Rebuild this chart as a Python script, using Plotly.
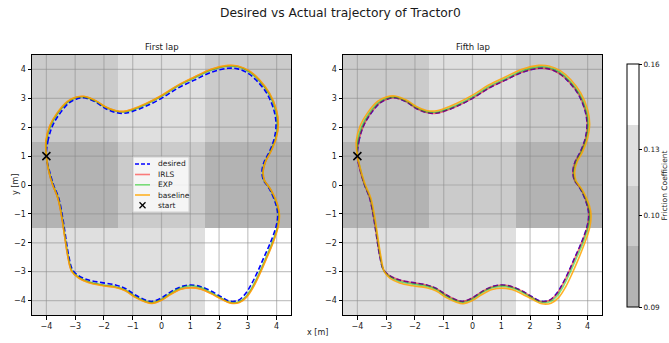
import plotly.graph_objects as go

# ---------------- data ----------------
desired_x = [-4.00,-3.95,-3.80,-3.57,-3.23,-2.95,-2.70,-2.30,-1.95,-1.60,-1.31,-1.03,-0.56,0.00,0.56,1.14,1.72,2.30,2.65,3.00,3.34,3.69,3.92,3.98,3.92,3.75,3.57,3.49,3.55,3.66,3.80,3.98,4.04,3.98,3.80,3.57,3.34,3.11,2.88,2.65,2.36,2.07,1.72,1.37,1.02,0.68,0.33,-0.02,-0.33,-0.56,-0.91,-1.26,-1.60,-2.07,-2.53,-2.88,-3.09,-3.23,-3.34,-3.43,-3.57,-3.75,-3.87,-4.00]
desired_y = [1.00,1.50,2.02,2.42,2.83,2.98,3.02,2.88,2.65,2.51,2.48,2.54,2.72,3.00,3.35,3.63,3.90,4.04,4.02,3.87,3.58,3.12,2.54,2.08,1.62,1.15,0.81,0.46,0.15,0.00,-0.23,-0.69,-1.04,-1.44,-1.96,-2.48,-3.00,-3.46,-3.81,-4.00,-4.02,-3.87,-3.67,-3.52,-3.46,-3.52,-3.69,-3.92,-4.03,-3.98,-3.81,-3.58,-3.46,-3.38,-3.29,-3.14,-2.94,-2.42,-1.73,-1.15,-0.46,0.00,0.40,1.00]

lap1_irls_x = [-4.00,-4.01,-3.87,-3.63,-3.27,-2.98,-2.70,-2.30,-1.95,-1.60,-1.31,-1.03,-0.56,0.00,0.56,1.14,1.72,2.30,2.65,3.04,3.39,3.75,3.99,4.05,3.98,3.79,3.61,3.53,3.58,3.70,3.84,4.03,4.09,4.04,3.87,3.65,3.42,3.19,2.95,2.70,2.39,2.08,1.72,1.37,1.02,0.68,0.33,-0.02,-0.33,-0.56,-0.91,-1.26,-1.60,-2.07,-2.53,-2.88,-3.12,-3.26,-3.37,-3.46,-3.60,-3.78,-3.90,-4.00]
lap1_irls_y = [1.00,1.52,2.06,2.47,2.88,3.03,3.06,2.92,2.70,2.57,2.54,2.61,2.80,3.09,3.44,3.73,4.00,4.13,4.11,3.95,3.64,3.16,2.58,2.10,1.63,1.15,0.80,0.46,0.15,-0.02,-0.25,-0.70,-1.05,-1.46,-1.99,-2.52,-3.04,-3.51,-3.87,-4.06,-4.08,-3.94,-3.75,-3.60,-3.55,-3.60,-3.77,-3.99,-4.09,-4.04,-3.88,-3.65,-3.54,-3.47,-3.37,-3.21,-2.98,-2.44,-1.74,-1.15,-0.46,0.00,0.40,1.00]
lap1_exp_x = [-4.00,-4.00,-3.85,-3.62,-3.26,-2.97,-2.70,-2.30,-1.95,-1.60,-1.31,-1.03,-0.56,0.00,0.56,1.14,1.72,2.30,2.65,3.03,3.38,3.74,3.97,4.03,3.97,3.78,3.60,3.52,3.57,3.69,3.83,4.02,4.08,4.03,3.85,3.63,3.40,3.17,2.93,2.69,2.38,2.08,1.72,1.37,1.02,0.68,0.33,-0.02,-0.33,-0.56,-0.91,-1.26,-1.60,-2.07,-2.53,-2.88,-3.11,-3.25,-3.36,-3.45,-3.59,-3.77,-3.89,-4.01]
lap1_exp_y = [1.00,1.51,2.05,2.46,2.87,3.02,3.05,2.91,2.69,2.56,2.53,2.59,2.78,3.07,3.42,3.70,3.97,4.11,4.09,3.93,3.63,3.15,2.57,2.09,1.63,1.15,0.80,0.46,0.15,-0.01,-0.24,-0.70,-1.05,-1.45,-1.98,-2.51,-3.03,-3.50,-3.86,-4.04,-4.06,-3.92,-3.72,-3.55,-3.49,-3.56,-3.74,-3.97,-4.07,-4.02,-3.86,-3.63,-3.52,-3.45,-3.35,-3.19,-2.97,-2.43,-1.74,-1.15,-0.46,0.00,0.40,1.00]
lap1_base_x = [-4.00,-4.02,-3.88,-3.64,-3.28,-2.98,-2.70,-2.30,-1.95,-1.60,-1.31,-1.03,-0.56,0.00,0.56,1.14,1.72,2.30,2.65,3.04,3.40,3.76,4.00,4.06,3.99,3.80,3.61,3.53,3.58,3.70,3.85,4.04,4.10,4.05,3.88,3.66,3.43,3.20,2.96,2.71,2.40,2.08,1.72,1.37,1.02,0.68,0.33,-0.02,-0.33,-0.56,-0.91,-1.26,-1.60,-2.07,-2.53,-2.88,-3.12,-3.26,-3.37,-3.46,-3.60,-3.78,-3.90,-4.00]
lap1_base_y = [1.00,1.52,2.06,2.48,2.89,3.04,3.07,2.93,2.71,2.58,2.55,2.62,2.81,3.10,3.45,3.74,4.01,4.14,4.12,3.96,3.65,3.17,2.58,2.10,1.63,1.15,0.80,0.46,0.15,-0.02,-0.25,-0.70,-1.05,-1.46,-1.99,-2.52,-3.05,-3.52,-3.88,-4.07,-4.09,-3.95,-3.76,-3.61,-3.56,-3.61,-3.78,-4.00,-4.10,-4.05,-3.89,-3.66,-3.55,-3.48,-3.38,-3.22,-2.99,-2.44,-1.74,-1.15,-0.46,0.00,0.40,1.00]

lap5_irls_x = [-4.00,-3.96,-3.80,-3.58,-3.23,-2.95,-2.70,-2.30,-1.95,-1.60,-1.31,-1.03,-0.56,0.00,0.56,1.14,1.72,2.30,2.65,3.00,3.35,3.70,3.93,3.99,3.93,3.76,3.57,3.49,3.55,3.66,3.81,3.99,4.05,3.99,3.81,3.58,3.35,3.12,2.89,2.65,2.36,2.07,1.72,1.37,1.02,0.68,0.33,-0.02,-0.33,-0.56,-0.91,-1.26,-1.60,-2.07,-2.53,-2.88,-3.09,-3.23,-3.34,-3.43,-3.57,-3.75,-3.88,-4.00]
lap5_irls_y = [1.00,1.50,2.02,2.42,2.83,2.98,3.02,2.88,2.65,2.51,2.48,2.54,2.72,3.00,3.35,3.63,3.90,4.04,4.02,3.87,3.58,3.12,2.54,2.08,1.62,1.15,0.81,0.46,0.15,0.00,-0.23,-0.69,-1.04,-1.44,-1.96,-2.48,-3.00,-3.46,-3.82,-4.01,-4.03,-3.88,-3.67,-3.52,-3.46,-3.52,-3.69,-3.92,-4.03,-3.98,-3.81,-3.58,-3.46,-3.38,-3.29,-3.14,-2.94,-2.42,-1.73,-1.15,-0.46,0.00,0.40,1.00]
lap5_exp_x = [-4.00,-3.99,-3.84,-3.61,-3.26,-2.96,-2.70,-2.30,-1.95,-1.60,-1.31,-1.03,-0.56,0.00,0.56,1.14,1.72,2.30,2.65,3.02,3.37,3.73,3.96,4.02,3.96,3.78,3.60,3.52,3.57,3.69,3.83,4.02,4.08,4.02,3.85,3.62,3.39,3.16,2.93,2.69,2.38,2.07,1.72,1.37,1.02,0.68,0.33,-0.02,-0.33,-0.56,-0.91,-1.26,-1.60,-2.07,-2.53,-2.87,-3.08,-3.21,-3.32,-3.41,-3.55,-3.74,-3.86,-4.00]
lap5_exp_y = [1.00,1.51,2.04,2.45,2.86,3.01,3.05,2.91,2.68,2.54,2.52,2.58,2.76,3.05,3.40,3.68,3.95,4.09,4.07,3.91,3.61,3.14,2.55,2.08,1.62,1.14,0.80,0.46,0.15,-0.01,-0.24,-0.70,-1.05,-1.46,-1.98,-2.51,-3.03,-3.50,-3.85,-4.04,-4.06,-3.91,-3.71,-3.56,-3.50,-3.56,-3.73,-3.96,-4.07,-4.02,-3.85,-3.62,-3.50,-3.43,-3.34,-3.18,-2.97,-2.43,-1.73,-1.15,-0.46,0.00,0.40,0.99]
lap5_base_x = [-4.00,-4.04,-3.90,-3.66,-3.29,-2.98,-2.70,-2.30,-1.95,-1.60,-1.31,-1.03,-0.56,0.00,0.56,1.14,1.72,2.30,2.65,3.05,3.41,3.77,4.01,4.07,4.00,3.82,3.63,3.55,3.60,3.72,3.87,4.06,4.12,4.07,3.90,3.69,3.46,3.23,2.99,2.73,2.41,2.08,1.72,1.37,1.02,0.68,0.33,-0.02,-0.33,-0.56,-0.91,-1.26,-1.60,-2.07,-2.53,-2.86,-3.06,-3.19,-3.30,-3.39,-3.53,-3.72,-3.85,-4.00]
lap5_base_y = [1.00,1.52,2.06,2.48,2.90,3.05,3.08,2.94,2.72,2.58,2.56,2.63,2.82,3.11,3.46,3.74,4.01,4.14,4.12,3.96,3.65,3.17,2.57,2.09,1.62,1.14,0.79,0.45,0.14,-0.03,-0.26,-0.71,-1.06,-1.48,-2.01,-2.54,-3.07,-3.54,-3.90,-4.09,-4.11,-3.96,-3.77,-3.62,-3.57,-3.62,-3.79,-4.01,-4.11,-4.06,-3.90,-3.67,-3.56,-3.49,-3.39,-3.23,-3.01,-2.44,-1.74,-1.15,-0.46,0.00,0.40,0.98]

start_x = [-4.0]
start_y = [1.0]

# friction map: cell edges and values (rows from bottom to top)
cell_edges = [-4.5, -1.5, 1.5, 4.5]
friction = [[0.13, 0.13, 0.16],
            [0.09, 0.10, 0.09],
            [0.10, 0.13, 0.10]]
friction_levels = [0.09, 0.10, 0.13, 0.16]
level_colors = ["#b3b3b3", "#cbcbcb", "#dfdfdf", "#ffffff"]
cbar_tick_text = ["0.09", "0.10", "0.13", "0.16"]
cbar_tick_pos = [-0.5, 1.0, 2.1, 3.5]   # position within the 4 equal colour bands

axis_ticks = [-4, -3, -2, -1, 0, 1, 2, 3, 4]
axis_range = [-4.5, 4.5]

# ---------------- figure ----------------
W, H = 669, 343
L_dom = [32 / W, 291 / W]
R_dom = [343 / W, 602 / W]
Y_dom = [1 - 315 / H, 1 - 55 / H]

FONT = "DejaVu Sans"
TXT = "#1a1a1a"

z_idx = [[friction_levels.index(v) for v in row] for row in friction]
nL = len(friction_levels)
cscale = []
for i, c in enumerate(level_colors):
    cscale.append([i / nL, c])
    cscale.append([(i + 1) / nL, c])

fig = go.Figure()

# grid lines drawn above the friction map
gx, gy = [], []
for v in axis_ticks:
    gx += [v, v, None]; gy += [axis_range[0], axis_range[1], None]
    gx += [axis_range[0], axis_range[1], None]; gy += [v, v, None]

panels = [
    ("x", "y", lap1_irls_x, lap1_irls_y, lap1_exp_x, lap1_exp_y, lap1_base_x, lap1_base_y, True),
    ("x2", "y2", lap5_irls_x, lap5_irls_y, lap5_exp_x, lap5_exp_y, lap5_base_x, lap5_base_y, False),
]
for xa, ya, ix, iy, ex, ey, bx, by, showscale in panels:
    fig.add_trace(go.Heatmap(
        x=cell_edges, y=cell_edges, z=z_idx, xaxis=xa, yaxis=ya,
        colorscale=cscale, zmin=-0.5, zmax=nL - 0.5, showscale=showscale,
        hoverinfo="skip",
        colorbar=dict(
            x=627 / W, xanchor="left", xpad=0, ypad=0,
            y=1 - 185.5 / H, yanchor="middle",
            len=243, lenmode="pixels", thickness=12,
            outlinecolor="black", outlinewidth=1,
            tickmode="array", tickvals=cbar_tick_pos, ticktext=cbar_tick_text,
            ticks="outside", ticklen=3, tickwidth=1, tickcolor="black",
            tickfont=dict(size=7.3, color=TXT, family=FONT),
        ),
    ))
    fig.add_trace(go.Scatter(x=gx, y=gy, xaxis=xa, yaxis=ya, mode="lines",
                             line=dict(color="rgba(140,140,140,0.5)", width=1.2),
                             hoverinfo="skip", showlegend=False))
    fig.add_trace(go.Scatter(x=desired_x, y=desired_y, xaxis=xa, yaxis=ya, mode="lines",
                             line=dict(color="#0000ff", width=1.6, dash="5px,2.5px", shape="spline"),
                             name="desired"))
    fig.add_trace(go.Scatter(x=ix, y=iy, xaxis=xa, yaxis=ya, mode="lines",
                             line=dict(color="rgba(255,0,0,0.5)", width=1.6, shape="spline"),
                             name="IRLS"))
    fig.add_trace(go.Scatter(x=ex, y=ey, xaxis=xa, yaxis=ya, mode="lines",
                             line=dict(color="rgba(0,200,0,0.5)", width=1.6, shape="spline"),
                             name="EXP"))
    fig.add_trace(go.Scatter(x=bx, y=by, xaxis=xa, yaxis=ya, mode="lines",
                             line=dict(color="rgba(255,165,0,0.85)", width=1.6, shape="spline"),
                             name="baseline"))
    fig.add_trace(go.Scatter(x=start_x, y=start_y, xaxis=xa, yaxis=ya, mode="markers",
                             marker=dict(symbol="x-thin", size=8, color="black",
                                         line=dict(color="black", width=1.5)),
                             name="start"))

axcommon = dict(range=axis_range, tickmode="array", tickvals=axis_ticks,
                showgrid=False, zeroline=False, showline=True, mirror=True,
                linecolor="black", linewidth=1, ticks="outside", ticklen=3.5,
                tickwidth=1, tickcolor="black",
                tickfont=dict(size=8, color=TXT, family=FONT))

fig.update_layout(
    width=W, height=H, margin=dict(l=0, r=0, t=0, b=0, autoexpand=False),
    paper_bgcolor="white", plot_bgcolor="white", showlegend=False,
    font=dict(family=FONT, color=TXT),
    xaxis=dict(domain=L_dom, anchor="y", **axcommon),
    yaxis=dict(domain=Y_dom, anchor="x", **axcommon),
    xaxis2=dict(domain=R_dom, anchor="y2", **axcommon),
    yaxis2=dict(domain=Y_dom, anchor="x2", **axcommon),
)

ann = [
    dict(text="Desired vs Actual trajectory of Tractor0", x=340 / W, y=1 - 13 / H,
         xref="paper", yref="paper", showarrow=False, xanchor="center", yanchor="middle",
         font=dict(size=12.3, color=TXT, family=FONT)),
    dict(text="First lap", x=161.5 / W, y=1 - 47 / H, xref="paper", yref="paper",
         showarrow=False, xanchor="center", yanchor="middle",
         font=dict(size=8.5, color=TXT, family=FONT)),
    dict(text="Fifth lap", x=472.5 / W, y=1 - 47 / H, xref="paper", yref="paper",
         showarrow=False, xanchor="center", yanchor="middle",
         font=dict(size=8.5, color=TXT, family=FONT)),
    dict(text="y [m]", x=15 / W, y=1 - 185 / H, xref="paper", yref="paper",
         showarrow=False, textangle=-90, xanchor="center", yanchor="middle",
         font=dict(size=8, color=TXT, family=FONT)),
    dict(text="x [m]", x=317 / W, y=1 - 332 / H, xref="paper", yref="paper",
         showarrow=False, xanchor="center", yanchor="middle",
         font=dict(size=8, color=TXT, family=FONT)),
    dict(text="Friction Coefficient", x=664 / W, y=1 - 185.5 / H, xref="paper", yref="paper",
         showarrow=False, textangle=-90, xanchor="center", yanchor="middle",
         font=dict(size=7.5, color=TXT, family=FONT)),
]

# manual legend in the first panel (domain coordinates)
legend_items = [
    ("desired", dict(color="#0000ff", width=1.6, dash="4px,2px")),
    ("IRLS", dict(color="rgba(255,0,0,0.5)", width=1.6)),
    ("EXP", dict(color="rgba(0,200,0,0.5)", width=1.6)),
    ("baseline", dict(color="rgba(255,165,0,0.85)", width=1.6)),
    ("start", None),
]
shapes = [dict(type="rect", xref="x domain", yref="y domain",
               x0=(133 - 32) / 259, x1=(189 - 32) / 259,
               y0=(315 - 212) / 260, y1=(315 - 157) / 260,
               fillcolor="rgba(255,255,255,0.8)", line=dict(color="#d0d0d0", width=1),
               layer="above")]
row_px = [164, 174.5, 184.8, 195, 205.3]
for (label, style), py in zip(legend_items, row_px):
    yd = (315 - py) / 260
    if style is not None:
        shapes.append(dict(type="line", xref="x domain", yref="y domain",
                           x0=(135 - 32) / 259, x1=(150 - 32) / 259, y0=yd, y1=yd,
                           line=style, layer="above"))
    else:
        cx = (142.5 - 32) / 259
        dx, dy = 3 / 259, 3 / 260
        for s in (1, -1):
            shapes.append(dict(type="line", xref="x domain", yref="y domain",
                               x0=cx - dx, x1=cx + dx, y0=yd - s * dy, y1=yd + s * dy,
                               line=dict(color="black", width=1.3), layer="above"))
    ann.append(dict(text=label, x=(156 - 32) / 259, y=yd, xref="x domain", yref="y domain",
                    showarrow=False, xanchor="left", yanchor="middle",
                    font=dict(size=7.5, color=TXT, family=FONT)))

fig.update_layout(annotations=ann, shapes=shapes)
fig.write_html("out.html")
